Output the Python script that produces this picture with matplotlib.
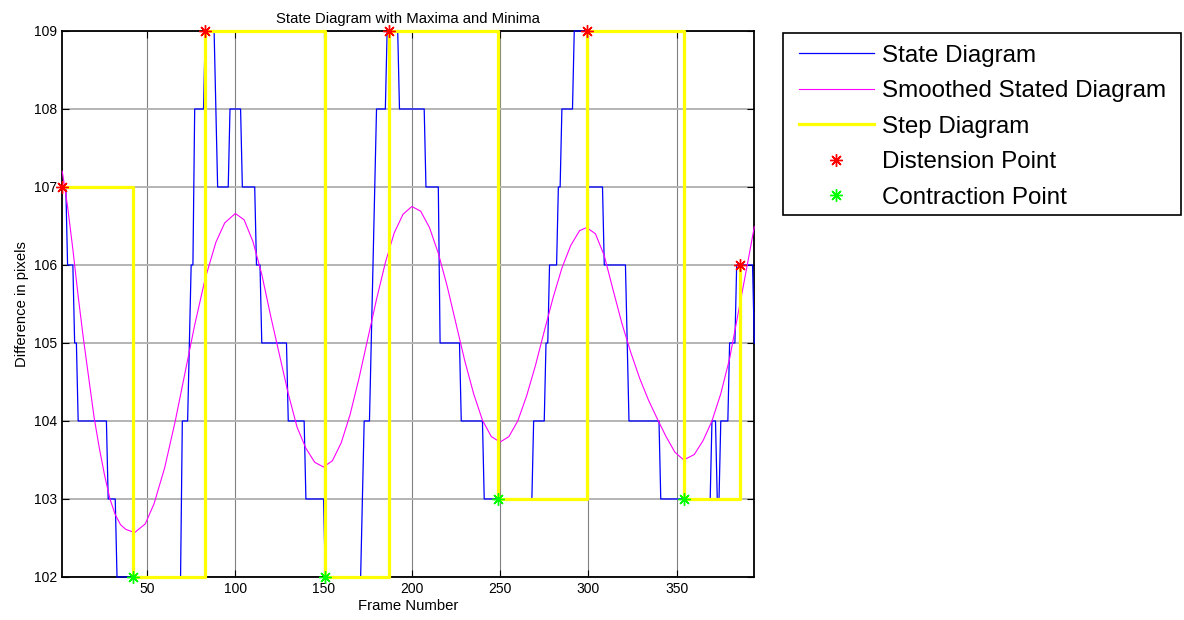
import numpy as np
import matplotlib
matplotlib.use("Agg")
import matplotlib.pyplot as plt
from matplotlib.patches import Rectangle

# state diagram: integer level held for a number of frames (run lengths), starting at frame 2
first_frame = 2
state_levels = [107, 106, 105, 104, 103, 102, 104, 105, 106, 108, 109, 108, 107, 108, 107, 106,
                105, 104, 103, 102, 103, 104, 105, 106, 107, 108, 109, 108, 107, 105, 104, 103,
                104, 105, 106, 107, 108, 109, 107, 106, 105, 104, 103, 104, 103, 104, 105, 106, 105]
state_counts = [3, 4, 2, 17, 5, 37, 4, 1, 2, 6, 6, 1, 7, 7, 8, 3,
                15, 10, 11, 21, 1, 4, 1, 1, 1, 6, 7, 15, 8, 12, 13, 28,
                7, 2, 5, 2, 7, 8, 9, 13, 1, 18, 29, 3, 2, 5, 4, 10, 1]

# smoothed curve
smooth_frames = [2, 5, 8, 11, 14, 17, 20, 23, 26, 29, 32, 35, 38, 43, 49, 54, 60, 66, 71, 77,
                 83, 89, 94, 100, 105, 110, 115, 120, 125, 130, 135, 140, 145, 150, 155, 160,
                 165, 170, 175, 180, 185, 190, 195, 200, 205, 210, 215, 220, 225, 230, 235,
                 240, 245, 250, 255, 260, 265, 270, 275, 280, 285, 290, 295, 299, 304, 309,
                 314, 319, 324, 329, 334, 339, 344, 349, 354, 360, 365, 370, 375, 380, 385,
                 390, 394]
smooth_values = [107.2, 106.75, 106.2, 105.6, 105.05, 104.55, 104.05, 103.65, 103.3, 103.0,
                 102.8, 102.67, 102.61, 102.57, 102.68, 102.94, 103.40, 104.00, 104.56, 105.23,
                 105.83, 106.29, 106.54, 106.66, 106.58, 106.30, 105.88, 105.35, 104.85, 104.35,
                 103.92, 103.65, 103.47, 103.41, 103.49, 103.72, 104.08, 104.54, 105.05, 105.56,
                 106.03, 106.41, 106.65, 106.75, 106.69, 106.48, 106.15, 105.73, 105.25, 104.77,
                 104.35, 104.01, 103.80, 103.73, 103.80, 104.00, 104.32, 104.71, 105.15, 105.58,
                 105.96, 106.25, 106.44, 106.48, 106.40, 106.12, 105.68, 105.25, 104.88, 104.55,
                 104.27, 104.03, 103.80, 103.60, 103.50, 103.57, 103.75, 104.00, 104.35, 104.80,
                 105.40, 106.00, 106.49]

dist_frames = [2, 83, 187, 299, 386]
dist_values = [107, 109, 109, 109, 106]
cont_frames = [42, 151, 249, 354]
cont_values = [102, 102, 103, 103]

plt.rcParams['font.family'] = ['Liberation Sans', 'DejaVu Sans']

fig = plt.figure(figsize=(11.84, 6.2), dpi=100)
ax = fig.add_axes([0.0526, 0.0694, 0.5845, 0.8806])

frames = np.arange(first_frame, first_frame + sum(state_counts))
state = np.repeat(state_levels, state_counts)

ax.plot(frames, state, color='#0000ff', lw=0.9, clip_on=False, zorder=3,
        label='State Diagram')
ax.plot(smooth_frames, smooth_values, color='#ff00ff', lw=0.8, clip_on=False, zorder=3,
        label='Smoothed Stated Diagram')

# step diagram jumps between successive extreme points
ext = sorted(zip(dist_frames + cont_frames, dist_values + cont_values))
step_x = [e[0] for e in ext]
step_y = [e[1] for e in ext]
ax.step(step_x, step_y, where='post', color='#ffff00', lw=2.3, clip_on=False, zorder=3,
        label='Step Diagram')

ax.plot(dist_frames, dist_values, ls='none', marker=(8, 2, 0), ms=9, mew=1.0,
        color='#ff0000', clip_on=False, zorder=4, label='Distension Point')
ax.plot(cont_frames, cont_values, ls='none', marker=(8, 2, 0), ms=9, mew=1.0,
        color='#00ff00', clip_on=False, zorder=4, label='Contraction Point')

ax.set_xlim(2, 394)
ax.set_ylim(102, 109)
ax.set_xticks([50, 100, 150, 200, 250, 300, 350])
ax.set_yticks(range(102, 110))
ax.tick_params(direction='in', length=5, width=0.8, top=True, right=True, labelsize=10)
ax.xaxis.grid(True, color='#808080', lw=0.8)
ax.yaxis.grid(True, color='#b4b4b4', lw=1.4)
ax.set_axisbelow(True)
for s in ax.spines.values():
    s.set_linewidth(1.3)
    s.set_color('black')
    s.set_zorder(2.5)

ax.set_title('State Diagram with Maxima and Minima', fontsize=10.7, pad=6)
ax.set_xlabel('Frame Number', fontsize=10.7, labelpad=2)
ax.set_ylabel('Difference in pixels', fontsize=10.7)

# legend entries without frame, box drawn separately so its padding matches
leg = ax.legend(loc='upper left', bbox_to_anchor=(0.6748, 0.9282),
                bbox_transform=fig.transFigure, fontsize=17.4, frameon=False,
                borderpad=0, handlelength=3.1, handletextpad=0.35, labelspacing=0.56,
                borderaxespad=0)
fig.patches.append(Rectangle((0.6616, 0.6532), 0.3359, 0.2931, transform=fig.transFigure,
                             fill=False, edgecolor='black', lw=1.2))

fig.savefig('out.png', dpi=100)
